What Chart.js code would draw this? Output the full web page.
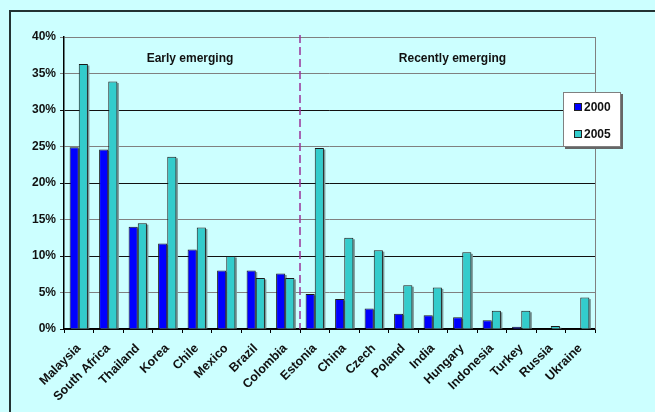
<!DOCTYPE html>
<html>
<head>
<meta charset="utf-8">
<script src="https://cdn.jsdelivr.net/npm/chart.js@4"></script>
<style>
    html, body { margin: 0; padding: 0; background: #ccffff; }
    #wrap { position: relative; width: 655px; height: 412px; overflow: hidden; }
    #frame {
        position: absolute; left: 9px; top: 10px; width: 700px; height: 450px;
        border-top: 2px solid #223333; border-left: 2px solid #223333;
    }
    canvas { position: absolute; left: 0; top: 0; }
</style>
</head>
<body>
<div id="wrap">
    <div id="frame"></div>
    <canvas id="shareChart" width="655" height="412"></canvas>
</div>
<script>
const countries = ["Malaysia", "South Africa", "Thailand", "Korea", "Chile", "Mexico", "Brazil", "Colombia",
    "Estonia", "China", "Czech", "Poland", "India", "Hungary", "Indonesia", "Turkey", "Russia", "Ukraine"];
const share2000 = [24.9, 24.6, 14.0, 11.7, 10.9, 8.0, 8.0, 7.6, 4.8, 4.1, 2.8, 2.1, 1.9, 1.6, 1.2, 0.3, 0, 0];
const share2005 = [36.3, 33.9, 14.5, 23.6, 13.9, 10.0, 7.0, 7.0, 24.8, 12.5, 10.8, 6.0, 5.7, 10.5, 2.5, 2.5, 0.4, 4.3];
const yTicks = [0, 5, 10, 15, 20, 25, 30, 35, 40];
const groupLabels = ["Early emerging", "Recently emerging"];
const lastEarlyIndex = 7;

const FONT = "'Liberation Sans', Arial, sans-serif";

// soft gray shadow to the right of each bar
const barShadow = {
    id: "barShadow",
    beforeDatasetsDraw(chart) {
        const ctx = chart.ctx;
        ctx.save();
        ctx.fillStyle = "#7a9a9a";
        chart.data.datasets.forEach((ds, i) => {
            chart.getDatasetMeta(i).data.forEach(bar => {
                const h = bar.base - bar.y;
                if (h <= 0) return;
                ctx.fillRect(bar.x - bar.width / 2 + 1.5, bar.y + 1.5, bar.width, h - 1.5);
            });
        });
        ctx.restore();
    }
};

// divider, group captions, right frame and the boxed legend
const overlay = {
    id: "overlay",
    afterDraw(chart) {
        const ctx = chart.ctx;
        const area = chart.chartArea;
        const x = chart.scales.x;
        const split = (x.getPixelForValue(lastEarlyIndex) + x.getPixelForValue(lastEarlyIndex + 1)) / 2;

        ctx.save();
        ctx.strokeStyle = "#808080";
        ctx.lineWidth = 1;
        ctx.beginPath();
        ctx.moveTo(area.right + 0.5, area.top);
        ctx.lineTo(area.right + 0.5, area.bottom);
        ctx.stroke();

        ctx.strokeStyle = "#993399";
        ctx.lineWidth = 1.5;
        ctx.setLineDash([8, 4]);
        ctx.beginPath();
        ctx.moveTo(split, area.top - 2);
        ctx.lineTo(split, area.bottom);
        ctx.stroke();
        ctx.setLineDash([]);

        ctx.fillStyle = "#111";
        ctx.font = "bold 12px " + FONT;
        ctx.textAlign = "center";
        ctx.textBaseline = "middle";
        ctx.fillText(groupLabels[0], (area.left + split) / 2 + 8, area.top + 22);
        ctx.fillText(groupLabels[1], (split + area.right) / 2 + 5, area.top + 22);

        // legend box
        const lx = 563, ly = 92, lw = 58, lh = 55;
        ctx.fillStyle = "#666";
        ctx.fillRect(lx + 2, ly + 2, lw, lh);
        ctx.fillStyle = "#fff";
        ctx.fillRect(lx, ly, lw, lh);
        ctx.strokeStyle = "#808080";
        ctx.lineWidth = 1;
        ctx.strokeRect(lx + 0.5, ly + 0.5, lw - 1, lh - 1);
        chart.data.datasets.forEach((ds, i) => {
            const cy = ly + 15 + i * 27;
            ctx.fillStyle = ds.backgroundColor;
            ctx.fillRect(lx + 11, cy - 4, 8, 8);
            ctx.strokeStyle = "#222";
            ctx.strokeRect(lx + 11.5, cy - 3.5, 7, 7);
            ctx.fillStyle = "#111";
            ctx.font = "bold 12px " + FONT;
            ctx.textAlign = "left";
            ctx.fillText(ds.label, lx + 21, cy + 1);
        });
        ctx.restore();
    }
};

new Chart(document.getElementById("shareChart"), {
    type: "bar",
    data: {
        labels: countries,
        datasets: [
            { label: "2000", data: share2000, backgroundColor: "#0000ff", borderColor: "#1a1a1a", borderWidth: 1 },
            { label: "2005", data: share2005, backgroundColor: "#33cccc", borderColor: "#1a1a1a", borderWidth: 1 }
        ]
    },
    options: {
        responsive: false,
        animation: false,
        layout: { padding: { top: 37, right: 60, left: 0, bottom: 0 } },
        datasets: { bar: { categoryPercentage: 0.62, barPercentage: 1.0 } },
        plugins: { legend: { display: false }, tooltip: { enabled: false } },
        scales: {
            x: {
                afterFit(scale) { scale.height = 83; },
                grid: { drawOnChartArea: false, tickLength: 4, color: "#000", offset: true },
                border: { color: "#000", width: 1.5 },
                ticks: {
                    maxRotation: 45, minRotation: 45, autoSkip: false, padding: 8,
                    color: "#111", font: { family: FONT, size: 12.5, weight: "bold" }
                }
            },
            y: {
                min: 0, max: 40,
                afterFit(scale) { scale.width = 64; },
                afterBuildTicks(scale) { scale.ticks = yTicks.map(v => ({ value: v })); },
                grid: {
                    tickLength: 4,
                    color: c => (c.tick && c.tick.value % 10 === 0 && c.tick.value < 40) ? "#111" : "#808080",
                    lineWidth: 1
                },
                border: { color: "#000", width: 1.5 },
                ticks: {
                    padding: 4,
                    color: "#111",
                    font: { family: FONT, size: 12, weight: "bold" },
                    callback: v => v + "%"
                }
            }
        }
    },
    plugins: [barShadow, overlay]
});
</script>
</body>
</html>
